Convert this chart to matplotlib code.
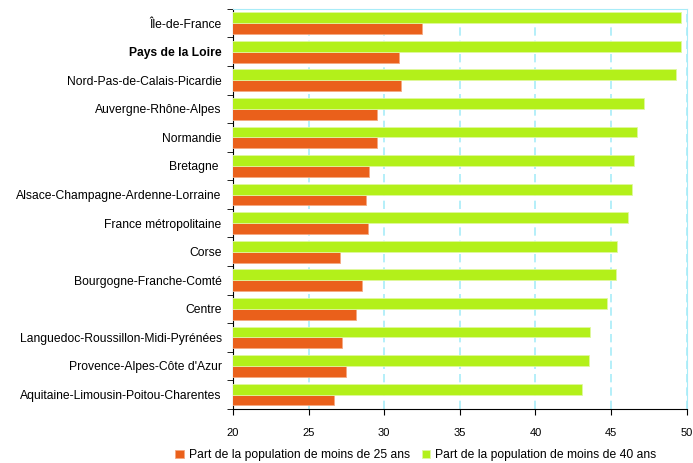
import matplotlib.pyplot as plt
import numpy as np

plt.rcParams['font.family'] = ['Liberation Sans', 'DejaVu Sans']

regions = ["Île-de-France", "Pays de la Loire", "Nord-Pas-de-Calais-Picardie",
           "Auvergne-Rhône-Alpes", "Normandie", "Bretagne ",
           "Alsace-Champagne-Ardenne-Lorraine", "France métropolitaine", "Corse",
           "Bourgogne-Franche-Comté", "Centre", "Languedoc-Roussillon-Midi-Pyrénées",
           "Provence-Alpes-Côte d'Azur", "Aquitaine-Limousin-Poitou-Charentes"]
moins25 = [32.5, 31.0, 31.1, 29.55, 29.55, 29.0, 28.8, 28.9, 27.05, 28.55, 28.15, 27.2, 27.45, 26.7]
moins40 = [49.65, 49.65, 49.3, 47.15, 46.7, 46.5, 46.4, 46.1, 45.4, 45.35, 44.7, 43.6, 43.55, 43.05]
label25 = "Part de la population de moins de 25 ans"
label40 = "Part de la population de moins de 40 ans"

orange = "#EA601B"
green = "#B3F01A"

fig = plt.figure(figsize=(6.93, 4.63), dpi=100)
ax = fig.add_axes([0.336, 0.117, 0.655, 0.864])

y = np.arange(len(regions))
h = 0.38
ax.barh(y + h / 2, moins25, height=h, color=orange, edgecolor="#F5A882", linewidth=0.6,
        label=label25, zorder=3)
ax.barh(y - h / 2, moins40, height=h, color=green, edgecolor="#E0F8A0", linewidth=0.6,
        label=label40, zorder=3)

ax.set_xlim(20, 50)
ax.set_ylim(len(regions) - 0.5, -0.5)
ax.set_xticks([20, 25, 30, 35, 40, 45, 50])
ax.tick_params(axis='x', labelsize=8, length=4, direction='out', pad=10)
ax.grid(axis='x', color='#A8ECF8', linestyle=(0, (5, 3)), linewidth=1.2, zorder=0)

ax.set_yticks(y)
ax.set_yticklabels(regions, fontsize=8.7)
ax.tick_params(axis='y', length=0, pad=8)
ax.set_yticks(np.arange(len(regions) + 1) - 0.5, minor=True)
ax.tick_params(axis='y', which='minor', length=4, direction='out')
for lab in ax.get_yticklabels():
    if lab.get_text() == "Pays de la Loire":
        lab.set_fontweight('bold')

for s in ['top', 'right']:
    ax.spines[s].set_color('#A8ECF8')
ax.spines['left'].set_color('black')
ax.spines['bottom'].set_color('black')

handles, labels = ax.get_legend_handles_labels()
fig.legend(handles, labels, loc='lower center', bbox_to_anchor=(0.6, -0.02), ncol=2,
           frameon=False, fontsize=8.7, handlelength=0.7, handleheight=0.7,
           handletextpad=0.4, columnspacing=1.0)

fig.savefig("out.png", dpi=100)
